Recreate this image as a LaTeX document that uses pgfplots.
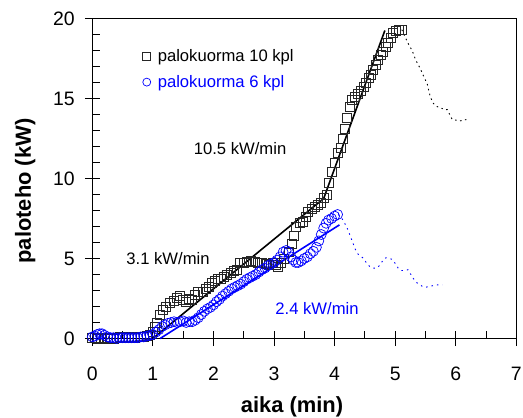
\documentclass[border=0pt]{standalone}
\usepackage{pgfplots}
\pgfplotsset{compat=1.18}
\usepackage{fontspec}
\setmainfont{Liberation Sans}
\definecolor{myblue}{RGB}{0,0,255}
\begin{document}
\begin{tikzpicture}
\begin{axis}[
  at={(0,0)}, anchor=south west,
  width=424bp, height=320bp, scale only axis,
  xmin=0, xmax=7, ymin=0, ymax=20,
  xtick={0,1,...,7}, ytick={0,5,10,15,20},
  minor xtick={0.5,1.5,...,6.5}, minor ytick={1,2,3,4,6,7,8,9,11,12,13,14,16,17,18,19},
  xtick pos=left, ytick pos=left,
  tick align=inside,
  major tick length=15bp, minor tick length=8bp,
  every major x tick/.append style={yshift=-7.5bp},
  every major y tick/.append style={xshift=-7.5bp},
  tick style={black, line width=1bp},
  axis line style={line width=1.3bp},
  /pgf/number format/assume math mode=true,
  ticklabel style={font=\fontsize{19.5}{22}\selectfont},
  yticklabel style={xshift=-14bp},
  xticklabel style={yshift=-25bp},
  xlabel={\textbf{aika (min)}},
  ylabel={\textbf{paloteho (kW)}},
  label style={font=\fontsize{22}{25}\selectfont},
  xlabel style={at={(axis description cs:0.471,-0.213)}, anchor=center},
  ylabel style={at={(axis description cs:-0.158,0.461)}, anchor=center, rotate=0},
  clip=false,
  legend style={draw=none, fill=none, at={(axis cs:0.83,18.18)}, anchor=north west,
    font=\fontsize{16.7}{19}\selectfont, row sep=8bp, column sep=5bp, inner sep=0pt},
  legend image post style={mark size=4bp},
  legend cell align=left,
]
\addplot[only marks, mark=square, mark size=4.5bp, black!85, line width=0.8bp] coordinates {
(0.00,0.05) (0.05,0.05) (0.10,0.0) (0.15,0.05) (0.20,0.0) (0.25,0.05) (0.30,0.05) (0.35,0.0)
(0.40,0.05) (0.45,0.1) (0.50,0.1) (0.55,0.05) (0.60,0.1) (0.65,0.05) (0.70,0.05) (0.75,0.1)
(0.80,0.1) (0.85,0.1) (0.90,0.15) (0.95,0.2) (1.00,0.4) (1.04,0.75) (1.07,1.0) (1.12,1.5)
(1.17,1.8) (1.22,2.0) (1.28,2.2) (1.34,2.35) (1.40,2.55) (1.45,2.65) (1.50,2.4) (1.55,2.3)
(1.60,2.45) (1.65,2.4) (1.70,2.7) (1.75,2.9) (1.82,2.9) (1.87,3.1) (1.92,3.2) (1.98,3.5)
(2.03,3.6) (2.08,3.7) (2.13,3.75) (2.18,3.85) (2.23,4.0) (2.28,4.1) (2.33,4.2) (2.38,4.3)
(2.44,4.7) (2.50,4.75) (2.56,4.8) (2.62,4.85) (2.68,4.8) (2.74,4.7) (2.80,4.7) (2.86,4.65)
(2.92,4.6) (2.98,4.7) (3.03,4.6) (3.07,4.5) (3.12,4.7) (3.17,5.0) (3.24,5.4) (3.30,5.9)
(3.33,6.4) (3.36,7.0) (3.42,7.2) (3.47,7.3) (3.52,7.6) (3.56,7.9) (3.62,8.1) (3.68,8.25)
(3.73,8.35) (3.78,8.5) (3.82,8.8) (3.87,9.0) (3.91,9.7) (3.95,10.4) (4.00,11.0) (4.05,11.6)
(4.10,11.9) (4.14,12.5) (4.17,13.1) (4.21,13.8) (4.25,14.5) (4.29,14.9) (4.34,15.1) (4.38,15.3)
(4.43,15.5) (4.48,15.7) (4.52,16.0) (4.56,16.3) (4.60,16.5) (4.64,16.8) (4.68,17.1) (4.72,17.4)
(4.76,17.7) (4.80,17.9) (4.84,18.2) (4.88,18.5) (4.93,18.8) (4.97,19.1) (5.02,19.2) (5.07,19.3)
(5.11,19.3)
};
\addlegendentry{palokuorma 10 kpl}
\addplot[only marks, mark=o, mark size=5bp, myblue, line width=0.7bp] coordinates {
(0.00,0.1) (0.04,0.15) (0.08,0.25) (0.12,0.3) (0.16,0.3) (0.20,0.2) (0.25,0.1) (0.30,0.05)
(0.35,0.05) (0.40,0.0) (0.45,0.05) (0.50,0.05) (0.55,0.05) (0.60,0.05) (0.65,0.05) (0.70,0.05)
(0.75,0.05) (0.80,0.1) (0.85,0.1) (0.90,0.15) (0.95,0.2) (1.00,0.25) (1.05,0.4) (1.10,0.55)
(1.15,0.75) (1.20,0.85) (1.25,0.95) (1.30,1.0) (1.35,1.05) (1.40,1.0) (1.45,1.05) (1.50,1.1)
(1.55,1.0) (1.60,1.05) (1.65,1.05) (1.70,1.15) (1.75,1.3) (1.80,1.5) (1.85,1.7) (1.90,1.85)
(1.95,1.95) (2.00,2.1) (2.05,2.3) (2.10,2.45) (2.15,2.65) (2.20,2.8) (2.25,2.95) (2.30,3.1)
(2.35,3.2) (2.40,3.3) (2.45,3.4) (2.50,3.55) (2.55,3.7) (2.60,3.8) (2.65,3.9) (2.70,4.0)
(2.75,4.15) (2.80,4.3) (2.85,4.4) (2.90,4.55) (2.95,4.65) (3.00,4.75) (3.05,4.9) (3.10,5.1)
(3.15,5.4) (3.20,5.5) (3.24,5.4) (3.28,5.1) (3.32,4.9) (3.36,4.75) (3.40,4.75) (3.45,4.85)
(3.50,5.0) (3.55,5.1) (3.60,5.3) (3.65,5.45) (3.70,5.7) (3.74,6.1) (3.78,6.5) (3.82,6.9)
(3.86,7.2) (3.90,7.4) (3.95,7.5) (4.00,7.65) (4.05,7.75)
};
\addlegendentry{\textcolor{myblue}{palokuorma 6 kpl}}
% fit lines
\addplot[forget plot, black, line width=1.6bp] coordinates {(1.0,0) (3.82,8.75) (4.83,19.25)};
\addplot[forget plot, myblue, line width=1.6bp] coordinates {(1.12,0) (4.08,7.1)};
% decay parts
\addplot[forget plot, black, line width=0.9bp, dash pattern=on 1.5bp off 3.5bp] coordinates {
(5.11,19.3) (5.17,18.8) (5.22,18.4) (5.28,18.0) (5.34,17.4) (5.41,16.9) (5.47,16.4) (5.53,15.9)
(5.58,15.1) (5.63,14.7) (5.69,14.5) (5.76,14.4) (5.82,14.3) (5.86,14.3) (5.90,14.0) (5.94,13.7)
(6.00,13.65) (6.07,13.6) (6.13,13.65) (6.20,13.7)
};
\addplot[forget plot, myblue, line width=0.9bp, dash pattern=on 1.5bp off 4bp] coordinates {
(4.06,7.75) (4.10,7.6) (4.14,7.4) (4.18,7.1) (4.22,6.8) (4.26,6.4) (4.30,6.0) (4.34,5.6)
(4.38,5.3) (4.43,5.15) (4.48,5.0) (4.53,4.7) (4.58,4.5) (4.64,4.4) (4.70,4.4) (4.75,4.6)
(4.80,4.9) (4.85,5.05) (4.90,5.0) (4.95,4.95) (5.00,4.7) (5.05,4.4) (5.10,4.25) (5.15,4.25)
(5.21,4.3) (5.26,4.0) (5.30,3.75) (5.35,3.5) (5.40,3.4) (5.45,3.25) (5.50,3.2) (5.56,3.25)
(5.62,3.3) (5.70,3.35) (5.78,3.35)
};
\node[font=\fontsize{16.7}{19}\selectfont, anchor=center] at (axis cs:2.44,11.9) {10.5 kW/min};
\node[font=\fontsize{16.7}{19}\selectfont, anchor=center] at (axis cs:1.25,5.0) {3.1 kW/min};
\node[font=\fontsize{16.7}{19}\selectfont, anchor=center, text=myblue] at (axis cs:3.71,1.85) {2.4 kW/min};
\end{axis}
\pgfresetboundingbox
\path[use as bounding box] (-92.3bp,-79.5bp) rectangle (430.7bp,338.5bp);
\end{tikzpicture}
\end{document}
